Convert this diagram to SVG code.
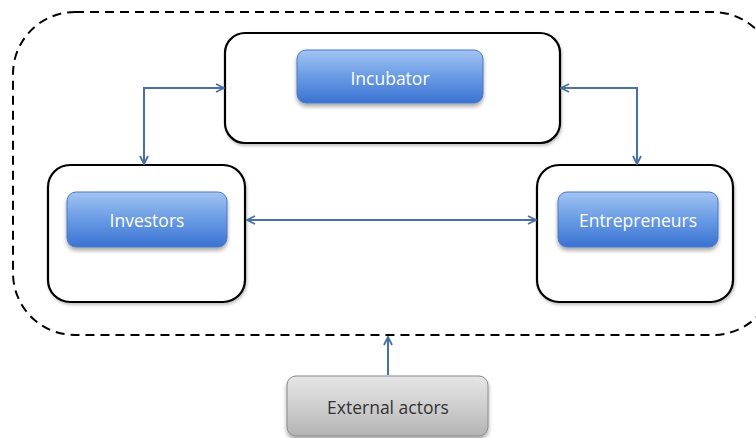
<svg xmlns="http://www.w3.org/2000/svg" width="756" height="438" viewBox="0 0 756 438">
  <defs>
    <linearGradient id="blueFill" x1="0" y1="0" x2="0" y2="1">
      <stop offset="0" stop-color="#a3c4f2"/>
      <stop offset="0.45" stop-color="#6e9fe6"/>
      <stop offset="1" stop-color="#3a72d2"/>
    </linearGradient>
    <linearGradient id="greyFill" x1="0" y1="0" x2="0" y2="1">
      <stop offset="0" stop-color="#e6e6e6"/>
      <stop offset="0.5" stop-color="#cfcfcf"/>
      <stop offset="1" stop-color="#b3b3b3"/>
    </linearGradient>
    <filter id="shadow" x="-10%" y="-10%" width="120%" height="140%">
      <feGaussianBlur in="SourceAlpha" stdDeviation="2"/>
      <feOffset dx="0" dy="3" result="off"/>
      <feComponentTransfer><feFuncA type="linear" slope="0.35"/></feComponentTransfer>
      <feMerge><feMergeNode/><feMergeNode in="SourceGraphic"/></feMerge>
    </filter>
    <filter id="softShadow" x="-5%" y="-5%" width="110%" height="115%">
      <feGaussianBlur in="SourceAlpha" stdDeviation="1.5"/>
      <feOffset dx="1" dy="2" result="off"/>
      <feComponentTransfer><feFuncA type="linear" slope="0.25"/></feComponentTransfer>
      <feMerge><feMergeNode/><feMergeNode in="SourceGraphic"/></feMerge>
    </filter>
    <marker id="head" viewBox="0 0 10 10" refX="9" refY="5" markerWidth="10" markerHeight="10" markerUnits="userSpaceOnUse" orient="auto-start-reverse">
      <path d="M1,1 L9,5 L1,9" fill="none" stroke="#4a6fa5" stroke-width="1.8" stroke-linejoin="miter"/>
    </marker>
    <style>
      .frame { fill: #ffffff; stroke: #000000; stroke-width: 2.2; }
      .boundary { fill: none; stroke: #000000; stroke-width: 2; stroke-dasharray: 9 6; }
      .btn { fill: url(#blueFill); stroke: #4a78c4; stroke-width: 1; }
      .btnGrey { fill: url(#greyFill); stroke: #8a8a8a; stroke-width: 1; }
      .label { font-family: "Open Sans", Lato, "Liberation Sans", sans-serif; font-size: 17.5px; text-anchor: middle; dominant-baseline: central; }
      .light { fill: #ffffff; }
      .dark { fill: #333333; }
      .link { fill: none; stroke: #4a6fa5; stroke-width: 2; }
    </style>
  </defs>

  <rect width="756" height="438" fill="#ffffff"/>

  <!-- system boundary -->
  <rect class="boundary" x="13" y="12" width="762" height="323" rx="62" ry="62"/>

  <g id="incubator">
    <rect class="frame" x="225" y="33" width="335" height="110" rx="20" ry="20" filter="url(#softShadow)"/>
    <rect class="btn" x="297" y="50" width="186" height="53" rx="9" ry="9" filter="url(#shadow)"/>
    <text class="label light" x="390" y="78">Incubator</text>
  </g>

  <g id="investors">
    <rect class="frame" x="48" y="165" width="197" height="137" rx="22" ry="22" filter="url(#softShadow)"/>
    <rect class="btn" x="67" y="192" width="160" height="55" rx="9" ry="9" filter="url(#shadow)"/>
    <text class="label light" x="147" y="220">Investors</text>
  </g>

  <g id="entrepreneurs">
    <rect class="frame" x="537" y="165" width="196" height="137" rx="22" ry="22" filter="url(#softShadow)"/>
    <rect class="btn" x="558" y="192" width="160" height="55" rx="9" ry="9" filter="url(#shadow)"/>
    <text class="label light" x="638" y="220">Entrepreneurs</text>
  </g>

  <g id="external-actors">
    <rect class="btnGrey" x="287" y="376" width="201" height="60" rx="9" ry="9" filter="url(#shadow)"/>
    <text class="label dark" x="388" y="407">External actors</text>
  </g>

  <g id="connectors">
    <!-- incubator <-> investors -->
    <path class="link" d="M224,88 L144,88 L144,164" marker-start="url(#head)" marker-end="url(#head)"/>
    <!-- incubator <-> entrepreneurs -->
    <path class="link" d="M561,88 L637,88 L637,164" marker-start="url(#head)" marker-end="url(#head)"/>
    <!-- investors <-> entrepreneurs -->
    <path class="link" d="M247,220 L536,220" marker-start="url(#head)" marker-end="url(#head)"/>
    <!-- external actors -> boundary -->
    <path class="link" d="M388,375 L388,337" marker-end="url(#head)"/>
  </g>
</svg>
